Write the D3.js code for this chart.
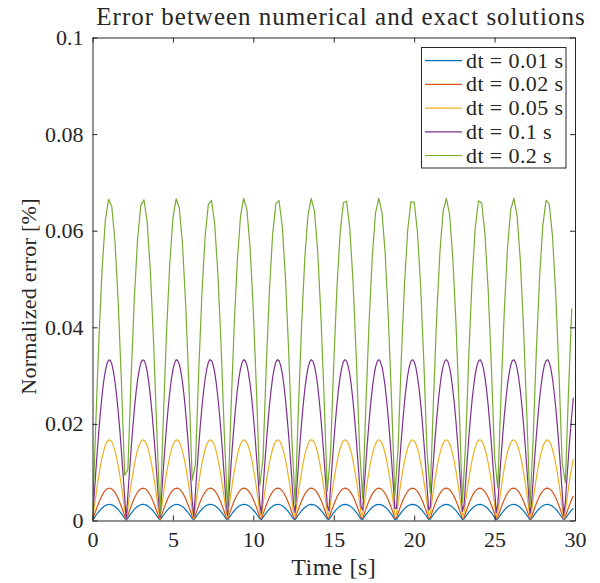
<!DOCTYPE html>
<html>
<head>
<meta charset="utf-8">
<script src="https://cdn.jsdelivr.net/npm/d3@7"></script>
<style>
  body { margin: 0; background: #fff; }
  svg text { font-family: "Liberation Serif", "Times New Roman", serif; fill: #262626; }
</style>
</head>
<body>
<div id="chart"></div>
<script>
// Series labels and colours (MATLAB default order)
const labels = ["dt = 0.01 s", "dt = 0.02 s", "dt = 0.05 s", "dt = 0.1 s", "dt = 0.2 s"];
const colors = ["#0072BD", "#D95319", "#EDB120", "#7E2F8E", "#77AC30"];
const steps = [0.1, 0.1, 0.1, 0.1, 0.2]; // sampling of the arrays below [s]

const xTicks = [0, 5, 10, 15, 20, 25, 30];
const yTicks = [0, 0.02, 0.04, 0.06, 0.08, 0.1];

// dt = 0.01 s
const err001 = [
  0, 0.00050, 0.00098, 0.00145, 0.00188, 0.00227, 0.00261, 0.00289, 0.00310, 0.00325, 0.00332, 0.00332, 0.00324, 0.00309, 0.00287, 0.00259, 0.00225, 0.00186, 0.00142, 0.00096, 0.00047,
  0.00003, 0.00053, 0.00101, 0.00147, 0.00190, 0.00229, 0.00263, 0.00290, 0.00311, 0.00326, 0.00332, 0.00332, 0.00324, 0.00308, 0.00286, 0.00257, 0.00223, 0.00183, 0.00140, 0.00093, 0.00044,
  0.00006, 0.00055, 0.00104, 0.00150, 0.00193, 0.00231, 0.00264, 0.00292, 0.00312, 0.00326, 0.00333, 0.00331, 0.00323, 0.00307, 0.00285, 0.00256, 0.00221, 0.00181, 0.00137, 0.00090, 0.00041,
  0.00008, 0.00058, 0.00106, 0.00152, 0.00195, 0.00233, 0.00266, 0.00293, 0.00313, 0.00327, 0.00333, 0.00331, 0.00322, 0.00306, 0.00283, 0.00254, 0.00219, 0.00179, 0.00135, 0.00088, 0.00039,
  0.00011, 0.00061, 0.00109, 0.00155, 0.00197, 0.00235, 0.00268, 0.00294, 0.00314, 0.00327, 0.00333, 0.00331, 0.00322, 0.00305, 0.00282, 0.00252, 0.00217, 0.00176, 0.00132, 0.00085, 0.00036,
  0.00014, 0.00064, 0.00112, 0.00157, 0.00199, 0.00237, 0.00269, 0.00296, 0.00315, 0.00328, 0.00333, 0.00331, 0.00321, 0.00304, 0.00280, 0.00250, 0.00214, 0.00174, 0.00130, 0.00082, 0.00033,
  0.00017, 0.00066, 0.00114, 0.00160, 0.00202, 0.00239, 0.00271, 0.00297, 0.00316, 0.00328, 0.00333, 0.00330, 0.00320, 0.00303, 0.00279, 0.00248, 0.00212, 0.00172, 0.00127, 0.00080, 0.00030,
  0.00020, 0.00069, 0.00117, 0.00162, 0.00204, 0.00241, 0.00273, 0.00298, 0.00317, 0.00329, 0.00333, 0.00330, 0.00319, 0.00302, 0.00277, 0.00246, 0.00210, 0.00169, 0.00124, 0.00077, 0.00028,
  0.00022, 0.00072, 0.00120, 0.00165, 0.00206, 0.00243, 0.00274, 0.00299, 0.00318, 0.00329, 0.00333, 0.00329, 0.00318, 0.00300, 0.00276, 0.00244, 0.00208, 0.00167, 0.00122, 0.00074, 0.00025,
  0.00025, 0.00075, 0.00122, 0.00167, 0.00208, 0.00245, 0.00276, 0.00301, 0.00319, 0.00330, 0.00333, 0.00329, 0.00318, 0.00299, 0.00274, 0.00243, 0.00206, 0.00164, 0.00119, 0.00071, 0.00022,
  0.00028, 0.00077, 0.00125, 0.00170, 0.00211, 0.00247, 0.00277, 0.00302, 0.00319, 0.00330, 0.00333, 0.00329, 0.00317, 0.00298, 0.00272, 0.00241, 0.00204, 0.00162, 0.00117, 0.00069, 0.00019,
  0.00031, 0.00080, 0.00127, 0.00172, 0.00213, 0.00249, 0.00279, 0.00303, 0.00320, 0.00330, 0.00333, 0.00328, 0.00316, 0.00297, 0.00271, 0.00239, 0.00201, 0.00159, 0.00114, 0.00066, 0.00016,
  0.00034, 0.00083, 0.00130, 0.00174, 0.00215, 0.00250, 0.00280, 0.00304, 0.00321, 0.00331, 0.00333, 0.00328, 0.00315, 0.00295, 0.00269, 0.00237, 0.00199, 0.00157, 0.00111, 0.00063, 0.00014,
  0.00036, 0.00085, 0.00133, 0.00177, 0.00217, 0.00252, 0.00282, 0.00305, 0.00322, 0.00331, 0.00333, 0.00327, 0.00314, 0.00294, 0.00267, 0.00235, 0.00197, 0.00154, 0.00109, 0.00060, 0.00011,
  0.00039, 0.00088, 0.00135, 0.00179, 0.00219, 0.00254
];

// dt = 0.02 s
const err002 = [
  0, 0.00100, 0.00198, 0.00291, 0.00378, 0.00457, 0.00525, 0.00581, 0.00624, 0.00654, 0.00668, 0.00668, 0.00653, 0.00622, 0.00578, 0.00521, 0.00453, 0.00374, 0.00286, 0.00193, 0.00095,
  0.00006, 0.00106, 0.00203, 0.00296, 0.00383, 0.00461, 0.00528, 0.00584, 0.00627, 0.00655, 0.00669, 0.00667, 0.00651, 0.00620, 0.00576, 0.00518, 0.00448, 0.00369, 0.00281, 0.00187, 0.00089,
  0.00011, 0.00111, 0.00209, 0.00302, 0.00388, 0.00465, 0.00532, 0.00587, 0.00628, 0.00656, 0.00669, 0.00667, 0.00650, 0.00618, 0.00573, 0.00514, 0.00444, 0.00364, 0.00276, 0.00182, 0.00083,
  0.00017, 0.00117, 0.00214, 0.00307, 0.00392, 0.00469, 0.00535, 0.00589, 0.00630, 0.00657, 0.00669, 0.00666, 0.00648, 0.00616, 0.00570, 0.00511, 0.00440, 0.00360, 0.00271, 0.00176, 0.00078,
  0.00023, 0.00122, 0.00219, 0.00312, 0.00397, 0.00473, 0.00539, 0.00592, 0.00632, 0.00658, 0.00670, 0.00666, 0.00647, 0.00614, 0.00567, 0.00507, 0.00436, 0.00355, 0.00266, 0.00171, 0.00072,
  0.00028, 0.00128, 0.00225, 0.00317, 0.00401, 0.00477, 0.00542, 0.00595, 0.00634, 0.00659, 0.00670, 0.00665, 0.00645, 0.00611, 0.00564, 0.00503, 0.00431, 0.00350, 0.00261, 0.00165, 0.00067,
  0.00034, 0.00133, 0.00230, 0.00321, 0.00406, 0.00481, 0.00545, 0.00597, 0.00636, 0.00660, 0.00670, 0.00664, 0.00644, 0.00609, 0.00561, 0.00499, 0.00427, 0.00345, 0.00255, 0.00160, 0.00061,
  0.00039, 0.00139, 0.00235, 0.00326, 0.00410, 0.00485, 0.00548, 0.00600, 0.00638, 0.00661, 0.00670, 0.00664, 0.00642, 0.00607, 0.00557, 0.00496, 0.00423, 0.00340, 0.00250, 0.00155, 0.00055,
  0.00045, 0.00144, 0.00241, 0.00331, 0.00415, 0.00489, 0.00552, 0.00602, 0.00639, 0.00662, 0.00670, 0.00663, 0.00641, 0.00604, 0.00554, 0.00492, 0.00418, 0.00335, 0.00245, 0.00149, 0.00050,
  0.00051, 0.00150, 0.00246, 0.00336, 0.00419, 0.00492, 0.00555, 0.00605, 0.00641, 0.00663, 0.00670, 0.00662, 0.00639, 0.00602, 0.00551, 0.00488, 0.00414, 0.00331, 0.00240, 0.00144, 0.00044,
  0.00056, 0.00155, 0.00251, 0.00341, 0.00423, 0.00496, 0.00558, 0.00607, 0.00643, 0.00664, 0.00670, 0.00661, 0.00637, 0.00599, 0.00548, 0.00484, 0.00409, 0.00326, 0.00234, 0.00138, 0.00039,
  0.00062, 0.00161, 0.00256, 0.00346, 0.00428, 0.00500, 0.00561, 0.00609, 0.00644, 0.00665, 0.00670, 0.00660, 0.00636, 0.00597, 0.00545, 0.00480, 0.00405, 0.00321, 0.00229, 0.00132, 0.00033,
  0.00067, 0.00166, 0.00261, 0.00351, 0.00432, 0.00504, 0.00564, 0.00612, 0.00646, 0.00665, 0.00670, 0.00659, 0.00634, 0.00594, 0.00541, 0.00476, 0.00400, 0.00316, 0.00224, 0.00127, 0.00027,
  0.00073, 0.00172, 0.00267, 0.00356, 0.00436, 0.00507, 0.00567, 0.00614, 0.00647, 0.00666, 0.00670, 0.00658, 0.00632, 0.00592, 0.00538, 0.00472, 0.00396, 0.00311, 0.00219, 0.00121, 0.00022,
  0.00079, 0.00177, 0.00272, 0.00360, 0.00441, 0.00511
];

// dt = 0.05 s
const err005 = [
  0, 0.0025, 0.0049, 0.0073, 0.0094, 0.0114, 0.0131, 0.0145, 0.0156, 0.0163, 0.0167, 0.0166, 0.0163, 0.0155, 0.0144, 0.0130, 0.0113, 0.0093, 0.0071, 0.0048, 0.0024,
  0.0001, 0.0026, 0.0051, 0.0074, 0.0095, 0.0115, 0.0132, 0.0146, 0.0156, 0.0163, 0.0167, 0.0166, 0.0162, 0.0155, 0.0143, 0.0129, 0.0112, 0.0092, 0.0070, 0.0047, 0.0022,
  0.0003, 0.0028, 0.0052, 0.0075, 0.0097, 0.0116, 0.0133, 0.0146, 0.0157, 0.0164, 0.0167, 0.0166, 0.0162, 0.0154, 0.0143, 0.0128, 0.0111, 0.0091, 0.0069, 0.0045, 0.0021,
  0.0004, 0.0029, 0.0053, 0.0076, 0.0098, 0.0117, 0.0133, 0.0147, 0.0157, 0.0164, 0.0167, 0.0166, 0.0162, 0.0154, 0.0142, 0.0127, 0.0110, 0.0090, 0.0068, 0.0044, 0.0019,
  0.0006, 0.0030, 0.0055, 0.0078, 0.0099, 0.0118, 0.0134, 0.0148, 0.0158, 0.0164, 0.0167, 0.0166, 0.0161, 0.0153, 0.0141, 0.0126, 0.0109, 0.0088, 0.0066, 0.0043, 0.0018,
  0.0007, 0.0032, 0.0056, 0.0079, 0.0100, 0.0119, 0.0135, 0.0148, 0.0158, 0.0164, 0.0167, 0.0166, 0.0161, 0.0152, 0.0140, 0.0125, 0.0108, 0.0087, 0.0065, 0.0041, 0.0017,
  0.0008, 0.0033, 0.0057, 0.0080, 0.0101, 0.0120, 0.0136, 0.0149, 0.0158, 0.0165, 0.0167, 0.0166, 0.0161, 0.0152, 0.0140, 0.0124, 0.0106, 0.0086, 0.0064, 0.0040, 0.0015,
  0.0010, 0.0035, 0.0059, 0.0081, 0.0102, 0.0121, 0.0137, 0.0149, 0.0159, 0.0165, 0.0167, 0.0165, 0.0160, 0.0151, 0.0139, 0.0124, 0.0105, 0.0085, 0.0062, 0.0039, 0.0014,
  0.0011, 0.0036, 0.0060, 0.0083, 0.0103, 0.0122, 0.0137, 0.0150, 0.0159, 0.0165, 0.0167, 0.0165, 0.0160, 0.0151, 0.0138, 0.0123, 0.0104, 0.0084, 0.0061, 0.0037, 0.0012,
  0.0013, 0.0037, 0.0061, 0.0084, 0.0104, 0.0123, 0.0138, 0.0151, 0.0160, 0.0165, 0.0167, 0.0165, 0.0159, 0.0150, 0.0137, 0.0122, 0.0103, 0.0082, 0.0060, 0.0036, 0.0011,
  0.0014, 0.0039, 0.0063, 0.0085, 0.0106, 0.0124, 0.0139, 0.0151, 0.0160, 0.0165, 0.0167, 0.0165, 0.0159, 0.0149, 0.0137, 0.0121, 0.0102, 0.0081, 0.0058, 0.0034, 0.0010,
  0.0015, 0.0040, 0.0064, 0.0086, 0.0107, 0.0125, 0.0140, 0.0152, 0.0161, 0.0166, 0.0167, 0.0165, 0.0158, 0.0149, 0.0136, 0.0120, 0.0101, 0.0080, 0.0057, 0.0033, 0.0008,
  0.0017, 0.0041, 0.0065, 0.0087, 0.0108, 0.0126, 0.0141, 0.0152, 0.0161, 0.0166, 0.0167, 0.0164, 0.0158, 0.0148, 0.0135, 0.0119, 0.0100, 0.0079, 0.0056, 0.0032, 0.0007,
  0.0018, 0.0043, 0.0066, 0.0089, 0.0109, 0.0126, 0.0141, 0.0153, 0.0161, 0.0166, 0.0167, 0.0164, 0.0158, 0.0147, 0.0134, 0.0118, 0.0099, 0.0077, 0.0054, 0.0030, 0.0005,
  0.0020, 0.0044, 0.0068, 0.0090, 0.0110, 0.0127
];

// dt = 0.1 s
const err01 = [
  0, 0.0050, 0.0098, 0.0145, 0.0188, 0.0227, 0.0261, 0.0289, 0.0310, 0.0325, 0.0332, 0.0332, 0.0324, 0.0309, 0.0287, 0.0259, 0.0225, 0.0186, 0.0142, 0.0096, 0.0047,
  0.0003, 0.0053, 0.0101, 0.0147, 0.0190, 0.0229, 0.0263, 0.0290, 0.0311, 0.0326, 0.0332, 0.0332, 0.0324, 0.0308, 0.0286, 0.0257, 0.0223, 0.0183, 0.0140, 0.0093, 0.0044,
  0.0006, 0.0055, 0.0104, 0.0150, 0.0193, 0.0231, 0.0264, 0.0292, 0.0312, 0.0326, 0.0333, 0.0331, 0.0323, 0.0307, 0.0285, 0.0256, 0.0221, 0.0181, 0.0137, 0.0090, 0.0041,
  0.0008, 0.0058, 0.0106, 0.0152, 0.0195, 0.0233, 0.0266, 0.0293, 0.0313, 0.0327, 0.0333, 0.0331, 0.0322, 0.0306, 0.0283, 0.0254, 0.0219, 0.0179, 0.0135, 0.0088, 0.0039,
  0.0011, 0.0061, 0.0109, 0.0155, 0.0197, 0.0235, 0.0268, 0.0294, 0.0314, 0.0327, 0.0333, 0.0331, 0.0322, 0.0305, 0.0282, 0.0252, 0.0217, 0.0176, 0.0132, 0.0085, 0.0036,
  0.0014, 0.0064, 0.0112, 0.0157, 0.0199, 0.0237, 0.0269, 0.0296, 0.0315, 0.0328, 0.0333, 0.0331, 0.0321, 0.0304, 0.0280, 0.0250, 0.0214, 0.0174, 0.0130, 0.0082, 0.0033,
  0.0017, 0.0066, 0.0114, 0.0160, 0.0202, 0.0239, 0.0271, 0.0297, 0.0316, 0.0328, 0.0333, 0.0330, 0.0320, 0.0303, 0.0279, 0.0248, 0.0212, 0.0172, 0.0127, 0.0080, 0.0030,
  0.0020, 0.0069, 0.0117, 0.0162, 0.0204, 0.0241, 0.0273, 0.0298, 0.0317, 0.0329, 0.0333, 0.0330, 0.0319, 0.0302, 0.0277, 0.0246, 0.0210, 0.0169, 0.0124, 0.0077, 0.0028,
  0.0022, 0.0072, 0.0120, 0.0165, 0.0206, 0.0243, 0.0274, 0.0299, 0.0318, 0.0329, 0.0333, 0.0329, 0.0318, 0.0300, 0.0276, 0.0244, 0.0208, 0.0167, 0.0122, 0.0074, 0.0025,
  0.0025, 0.0075, 0.0122, 0.0167, 0.0208, 0.0245, 0.0276, 0.0301, 0.0319, 0.0330, 0.0333, 0.0329, 0.0318, 0.0299, 0.0274, 0.0243, 0.0206, 0.0164, 0.0119, 0.0071, 0.0022,
  0.0028, 0.0077, 0.0125, 0.0170, 0.0211, 0.0247, 0.0277, 0.0302, 0.0319, 0.0330, 0.0333, 0.0329, 0.0317, 0.0298, 0.0272, 0.0241, 0.0204, 0.0162, 0.0117, 0.0069, 0.0019,
  0.0031, 0.0080, 0.0127, 0.0172, 0.0213, 0.0249, 0.0279, 0.0303, 0.0320, 0.0330, 0.0333, 0.0328, 0.0316, 0.0297, 0.0271, 0.0239, 0.0201, 0.0159, 0.0114, 0.0066, 0.0016,
  0.0034, 0.0083, 0.0130, 0.0174, 0.0215, 0.0250, 0.0280, 0.0304, 0.0321, 0.0331, 0.0333, 0.0328, 0.0315, 0.0295, 0.0269, 0.0237, 0.0199, 0.0157, 0.0111, 0.0063, 0.0014,
  0.0036, 0.0085, 0.0133, 0.0177, 0.0217, 0.0252, 0.0282, 0.0305, 0.0322, 0.0331, 0.0333, 0.0327, 0.0314, 0.0294, 0.0267, 0.0235, 0.0197, 0.0154, 0.0109, 0.0060, 0.0011,
  0.0039, 0.0088, 0.0135, 0.0179, 0.0219, 0.0254
];

// dt = 0.2 s
const err02 = [
  0, 0.0197, 0.0377, 0.0522, 0.0622, 0.0665, 0.0650, 0.0576, 0.0451, 0.0285, 0.0094,
  0.0105, 0.0295, 0.0459, 0.0581, 0.0652, 0.0664, 0.0618, 0.0515, 0.0367, 0.0186,
  0.0011, 0.0208, 0.0386, 0.0529, 0.0626, 0.0666, 0.0647, 0.0570, 0.0442, 0.0275, 0.0083,
  0.0116, 0.0305, 0.0467, 0.0587, 0.0654, 0.0663, 0.0613, 0.0508, 0.0358, 0.0176,
  0.0022, 0.0218, 0.0395, 0.0536, 0.0629, 0.0667, 0.0644, 0.0564, 0.0434, 0.0265, 0.0072,
  0.0127, 0.0315, 0.0475, 0.0592, 0.0656, 0.0662, 0.0609, 0.0501, 0.0348, 0.0165,
  0.0034, 0.0229, 0.0404, 0.0543, 0.0633, 0.0667, 0.0641, 0.0558, 0.0425, 0.0254, 0.0061,
  0.0138, 0.0325, 0.0483, 0.0597, 0.0658, 0.0661, 0.0604, 0.0493, 0.0339, 0.0154,
  0.0045, 0.0240, 0.0413, 0.0549, 0.0637, 0.0667, 0.0638, 0.0552, 0.0416, 0.0244, 0.0050,
  0.0149, 0.0335, 0.0490, 0.0602, 0.0660, 0.0659, 0.0599, 0.0486, 0.0329, 0.0143,
  0.0056, 0.0250, 0.0422, 0.0555, 0.0640, 0.0667, 0.0635, 0.0545, 0.0408, 0.0233, 0.0038,
  0.0160, 0.0344, 0.0498, 0.0607, 0.0662, 0.0657, 0.0594, 0.0478, 0.0319, 0.0132,
  0.0067, 0.0260, 0.0430, 0.0562, 0.0643, 0.0667, 0.0631, 0.0539, 0.0399, 0.0223, 0.0027,
  0.0171, 0.0354, 0.0505, 0.0611, 0.0663, 0.0655, 0.0589, 0.0470, 0.0309, 0.0121,
  0.0078, 0.0271, 0.0439
];

const seriesValues = [err001, err002, err005, err01, err02];

// layout
const W = 600, H = 583;
const margin = {top: 37.5, right: 25, bottom: 62.5, left: 92.5};
const innerW = W - margin.left - margin.right;
const innerH = H - margin.top - margin.bottom;
const serif = "'Liberation Serif', 'Times New Roman', serif";

const svg = d3.select("#chart").append("svg")
  .attr("width", W)
  .attr("height", H);

const x = d3.scaleLinear().domain([0, 30]).range([margin.left, margin.left + innerW]);
const y = d3.scaleLinear().domain([0, 0.1]).range([margin.top + innerH, margin.top]);

svg.append("clipPath").attr("id", "clip")
  .append("rect")
  .attr("x", margin.left).attr("y", margin.top)
  .attr("width", innerW).attr("height", innerH);

// lines
const line = d3.line()
  .x(d => x(d[0]))
  .y(d => y(d[1]));

const series = seriesValues.map((vals, i) => ({
  label: labels[i],
  color: colors[i],
  points: vals.map((v, k) => [k * steps[i], v])
}));

svg.append("g")
  .attr("clip-path", "url(#clip)")
  .selectAll("path")
  .data(series)
  .join("path")
  .attr("d", d => line(d.points))
  .attr("fill", "none")
  .attr("stroke", d => d.color)
  .attr("stroke-width", 1.2)
  .attr("stroke-linejoin", "round");

// axes (ticks inside, box on)
const tickLen = 5;
const fmtY = d => d === 0 ? "0" : String(+d.toFixed(2));

const axB = svg.append("g")
  .attr("transform", `translate(0,${margin.top + innerH})`)
  .call(d3.axisBottom(x).tickValues(xTicks).tickSizeInner(-tickLen).tickSizeOuter(0).tickPadding(11));
const axT = svg.append("g")
  .attr("transform", `translate(0,${margin.top})`)
  .call(d3.axisTop(x).tickValues(xTicks).tickSizeInner(-tickLen).tickSizeOuter(0).tickFormat(""));
const axL = svg.append("g")
  .attr("transform", `translate(${margin.left},0)`)
  .call(d3.axisLeft(y).tickValues(yTicks).tickFormat(fmtY).tickSizeInner(-tickLen).tickSizeOuter(0).tickPadding(9));
const axR = svg.append("g")
  .attr("transform", `translate(${margin.left + innerW},0)`)
  .call(d3.axisRight(y).tickValues(yTicks).tickSizeInner(-tickLen).tickSizeOuter(0).tickFormat(""));

[axB, axT, axL, axR].forEach(g => {
  g.attr("font-family", serif).attr("font-size", 22);
  g.select(".domain").attr("stroke", "#262626").attr("stroke-width", 1);
  g.selectAll(".tick line").attr("stroke", "#262626").attr("stroke-width", 1);
  g.selectAll(".tick text").attr("fill", "#262626");
});

// titles
svg.append("text")
  .attr("x", 341)
  .attr("y", 25)
  .attr("text-anchor", "middle")
  .style("font-size", "25px")
  .style("letter-spacing", "1px")
  .text("Error between numerical and exact solutions");

svg.append("text")
  .attr("x", margin.left + innerW / 2)
  .attr("y", 575)
  .attr("text-anchor", "middle")
  .style("font-size", "24px")
  .style("letter-spacing", "0.5px")
  .text("Time [s]");

svg.append("text")
  .attr("transform", "rotate(-90)")
  .attr("x", -296.5)
  .attr("y", 36)
  .attr("text-anchor", "middle")
  .style("font-size", "22px")
  .style("letter-spacing", "0.3px")
  .text("Normalized error [%]");

// legend
const lg = svg.append("g");
const rowH = 23.7, lgTop = 47.5, lgLeft = 421.5, lgRight = 566;

lg.append("rect")
  .attr("x", lgLeft).attr("y", lgTop)
  .attr("width", lgRight - lgLeft)
  .attr("height", rowH * series.length + 2)
  .attr("fill", "#fff")
  .attr("stroke", "#262626")
  .attr("stroke-width", 1);

const rows = lg.selectAll("g.row")
  .data(series)
  .join("g")
  .attr("class", "row")
  .attr("transform", (d, i) => `translate(0,${lgTop + 13.2 + i * rowH})`);

rows.append("line")
  .attr("x1", 425).attr("x2", 462)
  .attr("stroke", d => d.color)
  .attr("stroke-width", 1.2);

rows.append("text")
  .attr("x", 466)
  .attr("y", 7)
  .style("font-size", "22px")
  .style("letter-spacing", "0.4px")
  .text(d => d.label);
</script>
</body>
</html>
